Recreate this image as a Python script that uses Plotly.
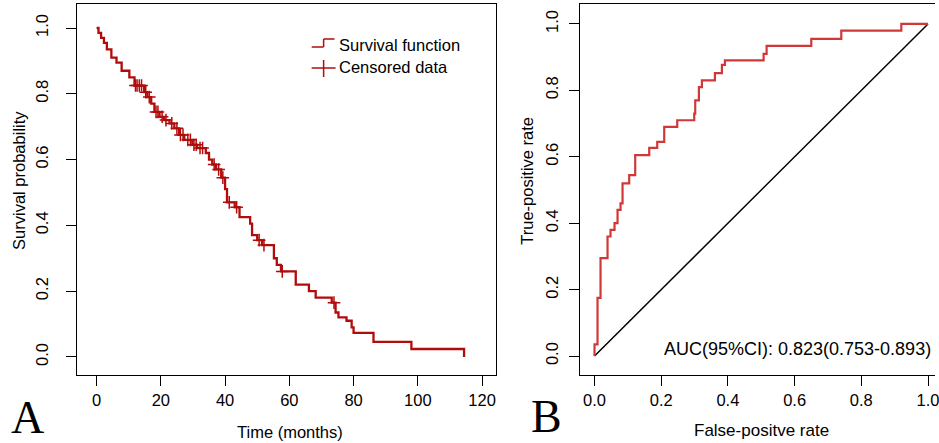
import numpy as np
import plotly.graph_objects as go

# ---------------- data ----------------
km_time = [0, 0.6, 1.4, 2.3, 3.2, 4.6, 6.2, 7.8, 10.2, 11.8,
           14.8, 15.8, 17.0, 18.0, 19.6, 21.0, 22.7, 24.2, 25.7, 27.3,
           29.8, 31.3, 34.0, 35.0, 36.0, 37.2, 38.8, 40.0, 40.6, 43.0,
           44.5, 47.8, 48.4, 50.0, 51.5, 55.2, 56.1, 57.4, 62.0, 66.1,
           68.2, 73.2, 74.4, 75.3, 77.8, 79.4, 80.0, 86.2, 98.0, 114.4]
km_surv = [1.0, 0.985, 0.97, 0.955, 0.935, 0.91, 0.895, 0.87, 0.85, 0.825,
           0.805, 0.79, 0.77, 0.745, 0.73, 0.72, 0.71, 0.695, 0.675, 0.66,
           0.645, 0.635, 0.62, 0.60, 0.585, 0.57, 0.545, 0.51, 0.47, 0.455,
           0.425, 0.405, 0.37, 0.355, 0.34, 0.30, 0.28, 0.26, 0.22, 0.20,
           0.18, 0.165, 0.135, 0.12, 0.11, 0.09, 0.073, 0.046, 0.024, 0.0]
censor_time = [12.1, 12.6, 13.3, 14.0, 15.3, 16.4, 18.5, 19.1, 20.4, 21.6,
               23.4, 25.0, 26.1, 26.9, 28.4, 29.2, 30.3, 31.0, 32.2, 33.0,
               36.6, 38.0, 39.3, 41.3, 43.6, 50.6, 52.1, 57.8, 73.9]

roc_fpr = [0, 0, 0.009, 0.018, 0.039, 0.048, 0.060, 0.069, 0.078, 0.084,
           0.104, 0.122, 0.164, 0.188, 0.209, 0.248, 0.299, 0.302, 0.313, 0.322,
           0.361, 0.382, 0.391, 0.507, 0.516, 0.65, 0.74, 0.92, 1.0]
roc_tpr = [0, 0.035, 0.175, 0.295, 0.36, 0.38, 0.40, 0.44, 0.46, 0.52,
           0.545, 0.605, 0.627, 0.645, 0.69, 0.71, 0.73, 0.77, 0.81, 0.83,
           0.852, 0.877, 0.89, 0.91, 0.934, 0.955, 0.98, 1.0, 1.0]

km_ticks = [0, 20, 40, 60, 80, 100, 120]
prob_ticks = [0.0, 0.2, 0.4, 0.6, 0.8, 1.0]
auc_text = "AUC(95%CI): 0.823(0.753-0.893)"

# survival value at each censoring time (step function lookup)
idx = np.searchsorted(np.array(km_time), np.array(censor_time), side="right") - 1
censor_surv = [km_surv[i] for i in idx]

# ---------------- figure ----------------
W, H = 939, 443
FONT = "Liberation Sans, Arial, sans-serif"
KM_RED = "#B00C0C"
ROC_RED = "#D03838"


def px(x):
    return x / W


def py(y):
    return 1 - y / H


fig = go.Figure()

fig.add_trace(go.Scatter(x=km_time, y=km_surv, mode="lines", line_shape="hv",
                         line=dict(color=KM_RED, width=2.3), xaxis="x", yaxis="y",
                         showlegend=False, hoverinfo="skip"))
fig.add_trace(go.Scatter(x=censor_time, y=censor_surv, mode="markers",
                         marker=dict(symbol="cross-thin", size=9,
                                     line=dict(color=KM_RED, width=1.5)),
                         xaxis="x", yaxis="y", showlegend=False, hoverinfo="skip"))

fig.add_trace(go.Scatter(x=[0, 1], y=[0, 1], mode="lines",
                         line=dict(color="black", width=1.5),
                         xaxis="x2", yaxis="y2", showlegend=False, hoverinfo="skip"))
fig.add_trace(go.Scatter(x=roc_fpr, y=roc_tpr, mode="lines", line_shape="hv",
                         line=dict(color=ROC_RED, width=2.2),
                         xaxis="x2", yaxis="y2", showlegend=False, hoverinfo="skip"))

axis_common = dict(showline=True, linecolor="black", linewidth=1,
                   ticks="outside", ticklen=10, tickwidth=1, tickcolor="black",
                   showgrid=False, zeroline=False,
                   tickfont=dict(family=FONT, size=16.5, color="black"))

fig.update_layout(
    width=W, height=H,
    margin=dict(l=0, r=0, t=0, b=0),
    paper_bgcolor="white", plot_bgcolor="white",
    showlegend=False,
    xaxis=dict(domain=[px(77), px(498)], range=[-6.2, 124.3], mirror=True,
               tickvals=km_ticks, anchor="y", **axis_common),
    yaxis=dict(domain=[py(375), py(4)], range=[-0.055, 1.073], mirror=True,
               tickvals=prob_ticks, tickformat=".1f", tickangle=-90,
               ticklabelstandoff=11, anchor="x", **axis_common),
    xaxis2=dict(domain=[px(582), 1.0], range=[-0.045, 1.021], mirror=True,
                ticklabeloverflow="allow",
                tickvals=prob_ticks, tickformat=".1f", anchor="y2", **axis_common),
    yaxis2=dict(domain=[py(375), py(4)], range=[-0.057, 1.06], mirror=False,
                tickvals=prob_ticks, tickformat=".1f", tickangle=-90,
                ticklabelstandoff=4, anchor="x2", **axis_common),
)

ann_font = dict(family=FONT, size=16.5, color="black")
annotations = [
    dict(text="Time (months)", x=px(291), y=py(432), xref="paper", yref="paper",
         showarrow=False, font=ann_font, xanchor="center", yanchor="middle"),
    dict(text="Survival probability", x=px(19), y=py(180), xref="paper", yref="paper",
         showarrow=False, font=ann_font, textangle=-90, xanchor="center", yanchor="middle"),
    dict(text="False-positve rate", x=px(765), y=py(430), xref="paper", yref="paper",
         showarrow=False, font=dict(family=FONT, size=17, color="black"),
         xanchor="center", yanchor="middle"),
    dict(text="True-positive rate", x=px(529), y=py(181), xref="paper", yref="paper",
         showarrow=False, font=ann_font, textangle=-90, xanchor="center", yanchor="middle"),
    dict(text=auc_text, x=px(937), y=py(349), xref="paper", yref="paper",
         showarrow=False, font=dict(family=FONT, size=18, color="black"),
         xanchor="right", yanchor="middle"),
    dict(text="Survival function", x=px(338), y=py(45), xref="paper", yref="paper",
         showarrow=False, font=ann_font, xanchor="left", yanchor="middle"),
    dict(text="Censored data", x=px(338), y=py(67), xref="paper", yref="paper",
         showarrow=False, font=ann_font, xanchor="left", yanchor="middle"),
    dict(text="A", x=px(28), y=py(417), xref="paper", yref="paper", showarrow=False,
         font=dict(family="Liberation Serif, Times New Roman, serif", size=46, color="black"),
         xanchor="center", yanchor="middle"),
    dict(text="B", x=px(549), y=py(416), xref="paper", yref="paper", showarrow=False,
         font=dict(family="Liberation Serif, Times New Roman, serif", size=46, color="black"),
         xanchor="center", yanchor="middle"),
]
fig.update_layout(annotations=annotations)

# legend symbols (step line and plus)
leg_line = dict(color=KM_RED, width=1.5)
shapes = [
    dict(type="line", xref="paper", yref="paper", x0=px(313), x1=px(325), y0=py(47), y1=py(47), line=leg_line),
    dict(type="line", xref="paper", yref="paper", x0=px(325), x1=px(325), y0=py(47), y1=py(39), line=leg_line),
    dict(type="line", xref="paper", yref="paper", x0=px(325), x1=px(336), y0=py(39), y1=py(39), line=leg_line),
    dict(type="line", xref="paper", yref="paper", x0=px(313), x1=px(337), y0=py(68), y1=py(68), line=leg_line),
    dict(type="line", xref="paper", yref="paper", x0=px(325), x1=px(325), y0=py(60), y1=py(77), line=leg_line),
]
fig.update_layout(shapes=shapes)

fig.write_html("out.html", config={"displayModeBar": False},
               post_script="document.body.style.margin='0';document.body.style.overflow='hidden';")
